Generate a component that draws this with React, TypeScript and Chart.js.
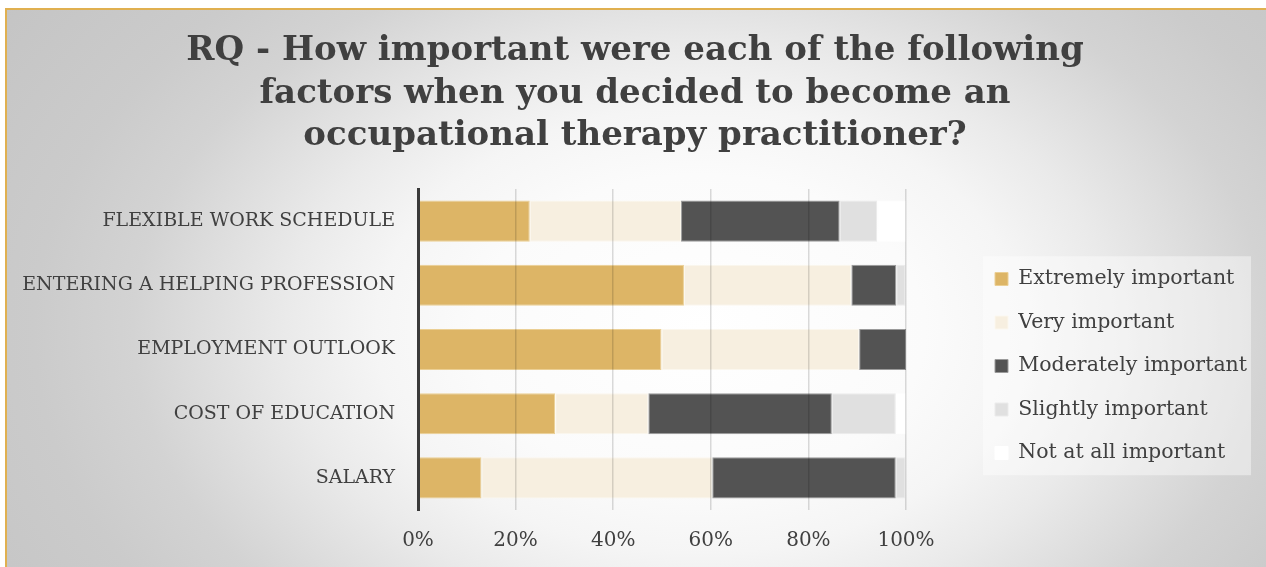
import React, { useEffect, useRef } from "react";
import { Chart, registerables } from "chart.js";

Chart.register(...registerables);

const categories = [
  "FLEXIBLE WORK SCHEDULE",
  "ENTERING A HELPING PROFESSION",
  "EMPLOYMENT OUTLOOK",
  "COST OF EDUCATION",
  "SALARY",
];

const seriesNames = [
  "Extremely important",
  "Very important",
  "Moderately important",
  "Slightly important",
  "Not at all important",
];

const extremely = [22.9, 54.5, 49.9, 28.1, 13.0];
const very = [31.0, 34.3, 40.5, 19.1, 47.3];
const moderately = [32.5, 9.2, 9.6, 37.6, 37.6];
const slightly = [7.7, 1.9, 0, 13.1, 2.0];
const notAtAll = [5.9, 0.1, 0, 2.1, 0.1];

const xTicks = [0, 20, 40, 60, 80, 100];

const titleLines = [
  "RQ - How important were each of the following",
  "factors when you decided to become an",
  "occupational therapy practitioner?",
];

const fills = ["#DDB566", "#F7EFE0", "#535353", "#E0E0E0", "#FFFFFF"];
const borders = ["#EBCF94", "#FBF7EE", "#9A9A9A", "#EBEBEB", "#FFFFFF"];

const legendBg = {
  id: "legendBg",
  beforeDraw(chart: any) {
    const lg = chart.legend;
    if (!lg || !lg.legendHitBoxes || !lg.legendHitBoxes.length) return;
    const hb = lg.legendHitBoxes;
    const top = hb[0].top - 12.5;
    const last = hb[hb.length - 1];
    const bottom = last.top + last.height + 12;
    const left = lg.left + 11;
    const right = lg.right - 3;
    const ctx = chart.ctx;
    ctx.save();
    ctx.fillStyle = "rgba(255,255,255,0.42)";
    ctx.fillRect(left, top, right - left, bottom - top);
    ctx.restore();
  },
};

export default function App() {
  const ref = useRef<HTMLCanvasElement | null>(null);

  useEffect(() => {
    if (!ref.current) return;
    const values = [extremely, very, moderately, slightly, notAtAll];
    const chart = new Chart(ref.current, {
      type: "bar",
      data: {
        labels: categories,
        datasets: seriesNames.map((name, i) => ({
          label: name,
          data: values[i],
          backgroundColor: fills[i],
          borderColor: borders[i],
          borderWidth: 1,
          borderSkipped: false,
          categoryPercentage: 0.8,
          barPercentage: 0.8,
        })),
      },
      options: {
        indexAxis: "y",
        responsive: false,
        animation: false,
        layout: { padding: { left: 16, right: 12, top: 0, bottom: 0 } },
        scales: {
          x: {
            type: "linear",
            stacked: true,
            min: 0,
            max: 100,
            afterBuildTicks: (s: any) => {
              s.ticks = xTicks.map((v) => ({ value: v }));
            },
            afterFit: (s: any) => {
              s.height = 57;
            },
            grid: {
              display: true,
              drawTicks: false,
              color: "rgba(0,0,0,0.14)",
              lineWidth: 1.5,
              z: 1,
            },
            border: { display: false },
            ticks: {
              padding: 19,
              color: "#404040",
              font: { family: "DejaVu Serif", size: 20 },
              callback: (v: any) => v + "%",
            },
          },
          y: {
            type: "category",
            stacked: true,
            afterFit: (s: any) => {
              s.width = 402;
            },
            grid: { display: false, drawTicks: false },
            border: { display: true, color: "#3a3a3a", width: 3, z: 2 },
            ticks: {
              padding: 23,
              color: "#404040",
              font: { family: "DejaVu Serif", size: 19 },
            },
          },
          y2: {
            type: "linear",
            position: "right",
            display: true,
            afterFit: (s: any) => {
              s.width = 66;
            },
            grid: { display: false, drawTicks: false },
            border: { display: false },
            ticks: { display: false },
          },
        },
        plugins: {
          title: {
            display: true,
            text: titleLines,
            color: "#404040",
            font: { family: "DejaVu Serif", weight: "bold", size: 34, lineHeight: 1.25 },
            padding: { top: 30, bottom: 31.5 },
          },
          legend: {
            display: true,
            position: "right",
            fullSize: false,
            maxWidth: 282,
            title: {
              display: true,
              text: " ",
              padding: 0,
              font: { size: 10, lineHeight: 3.3 },
            },
            labels: {
              boxWidth: 13,
              boxHeight: 13,
              padding: 23,
              color: "#404040",
              font: { family: "DejaVu Serif", size: 20.5 },
            },
          },
          tooltip: { enabled: false },
        },
      } as any,
      plugins: [legendBg],
    });
    return () => chart.destroy();
  }, []);

  return (
    <div
      style={{
        position: "fixed",
        left: 0,
        top: 0,
        width: 1266,
        height: 567,
        overflow: "hidden",
        background: "#ffffff",
      }}
    >
      <div
        style={{
          position: "absolute",
          left: 5,
          top: 8,
          width: 1300,
          height: 620,
          borderLeft: "2px solid #E0B050",
          borderTop: "2px solid #E0B050",
          background:
            "radial-gradient(ellipse 900px 620px at 693px 320px, #ffffff 0%, #fbfbfb 25%, #f5f5f5 36%, #eaeaea 46%, #d3d3d3 63%, #cbcbcb 74%, #c2c2c2 100%)",
        }}
      />
      <canvas
        ref={ref}
        width={1266}
        height={567}
        style={{ position: "absolute", left: 0, top: 0, display: "block" }}
      />
    </div>
  );
}
